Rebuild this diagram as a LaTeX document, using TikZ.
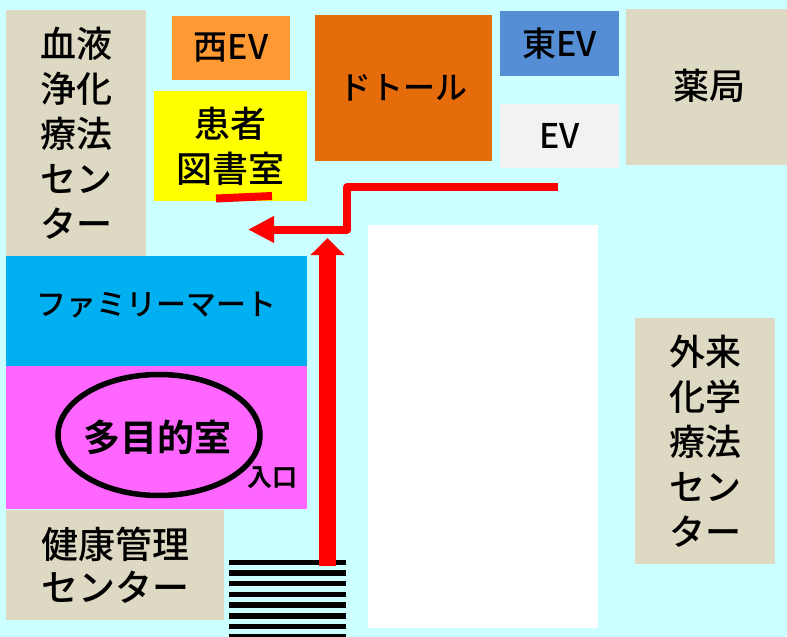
\documentclass[tikz,border=0pt]{standalone}
\usepackage{fontspec}
\setmainfont{Noto Sans CJK JP Medium}
\newfontfamily\heavyfont{Noto Sans CJK JP}[UprightFont=*, BoldFont=* Bold]
\usetikzlibrary{arrows.meta,shapes.geometric}
\definecolor{bgcyan}{HTML}{CCFFFF}
\definecolor{roomgrey}{HTML}{DDD9C3}
\definecolor{toshoyellow}{HTML}{FFFF00}
\definecolor{nishiorange}{HTML}{FF9933}
\definecolor{doutororange}{HTML}{E46C0A}
\definecolor{higashiblue}{HTML}{558ED5}
\definecolor{evgrey}{HTML}{F2F2F2}
\definecolor{famimablue}{HTML}{00B0F0}
\definecolor{tamokupink}{HTML}{FF66FF}
\tikzset{
    room/.style={inner sep=0pt, align=center, font=\fontsize{36}{45}\selectfont},
    smallroom/.style={room, font=\fontsize{34}{40}\selectfont},
    route/.style={draw=red, line join=round, line width=#1},
}
\begin{document}
\begin{tikzpicture}[x=1pt,y=-1pt]
        \useasboundingbox (0,0) rectangle (787,637);
        \fill[bgcyan] (0,0) rectangle (787,637);

        %%%%%%%%%% Stanze %%%%%%%%%%
        \node[room, fill=roomgrey, minimum width=140pt, minimum height=246pt] (ketsueki) at (76,133) {血液\\浄化\\療法\\セン\\ター};
        \node[room, fill=toshoyellow, minimum width=153pt, minimum height=110pt] (tosho) at (230.5,146) {患者\\図書室};
        \node[smallroom, fill=nishiorange, minimum width=118pt, minimum height=64pt] (nishi) at (231,48) {西EV};
        \node[smallroom, font=\fontsize{32}{40}\selectfont, fill=doutororange, minimum width=177pt, minimum height=146pt] (doutor) at (403.5,88) {ドトール};
        \node[smallroom, fill=higashiblue, minimum width=119pt, minimum height=65pt] (higashi) at (559.5,43.5) {東EV};
        \node[smallroom, fill=evgrey, minimum width=119pt, minimum height=64pt] (ev) at (559.5,136) {EV};
        \fill[roomgrey] (626,9) rectangle (787,165);
        \node[room] (yakkyoku) at (709.5,86) {薬局};
        \fill[famimablue] (6,256) rectangle (307,366);
        \node[font=\fontsize{30}{36}\selectfont, inner sep=0pt] (famima) at (156.5,305) {ファミリーマート};
        \node[fill=tamokupink, minimum width=301pt, minimum height=143pt, inner sep=0pt] (tamoku) at (156.5,437.5) {};
        \node[room, font=\fontsize{37}{43}\selectfont, fill=roomgrey, minimum width=218pt, minimum height=110pt] (kenko) at (115,565) {健康管理\\センター};
        \node[room, fill=roomgrey, minimum width=140pt, minimum height=246pt] (gairai) at (705,441) {外来\\化学\\療法\\セン\\ター};
        \node[fill=white, minimum width=230pt, minimum height=403pt, inner sep=0pt] (naka) at (483,426.5) {};

        %%%%%%%%% Testo %%%%%%%%%%
        \node[draw=black, line width=5.5pt, ellipse, minimum width=202pt, minimum height=121pt, inner sep=0pt] (shitsu) at (159,435) {};
        \node[font=\fontsize{37}{45}\heavyfont\bfseries, inner sep=0pt] (shitsutext) at (157.5,437) {多目的室};
        \node[font=\fontsize{25}{30}\heavyfont\bfseries, inner sep=0pt] (iriguchi) at (272,478) {入口};

        %%%%%%%%% Strisce %%%%%%%%%
        \foreach \y in {0,...,7}
            \fill[black] (229,559.5+10.7*\y) rectangle (346,{min(637,565+10.7*\y)});
        \coordinate (scala) at (327.5,566);

        %%%%%%%%% Percorso %%%%%%%%
        \coordinate (ingresso) at (327.5,238);
        \draw[route=17pt, -{Triangle[width=33pt,length=17pt]}] (scala) -- (ingresso);

        \coordinate (partenza) at (558,187);
        \coordinate (arrivo) at (248,229.5);
        \draw[route=8pt, -{Triangle[width=25pt,length=26pt]}] (partenza) -- (347,187) -- (347,229.5) -- (arrivo);

        \coordinate (segnoA) at (216,198.5);
        \coordinate (segnoB) at (272,196);
        \draw[route=8pt] (segnoA) -- (segnoB);
    \end{tikzpicture}
\end{document}
